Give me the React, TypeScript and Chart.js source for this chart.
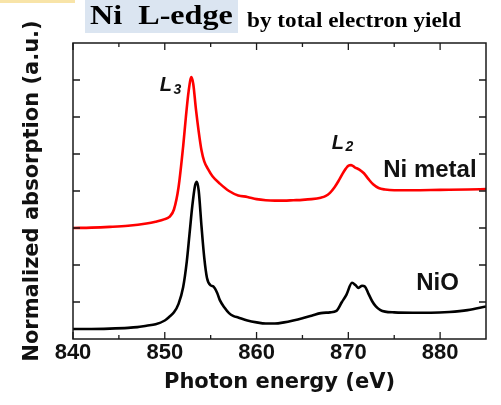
import React, { useEffect, useRef } from 'react';
import { Chart, registerables } from 'chart.js';

Chart.register(...registerables);

// ---- Data ----
const niMetalEnergy = [
  840, 842, 844, 846, 848, 849, 850, 850.5, 851, 851.5, 852, 852.3, 852.6, 852.9, 853.1,
  853.4, 853.7, 854.0, 854.3, 854.7, 855.2, 856, 857, 858, 859, 860, 861, 862, 863, 864,
  865, 866, 867, 867.5, 868, 868.5, 869, 869.5, 870, 870.3, 870.7, 871.2, 871.7, 872.2,
  872.7, 873.3, 874, 875, 877, 880, 883, 885,
];
const niMetalSignal = [
  3.0, 3.01, 3.03, 3.06, 3.12, 3.17, 3.24, 3.3, 3.5, 4.1, 5.2, 6.0, 6.7, 7.08, 6.9,
  6.2, 5.6, 5.1, 4.8, 4.6, 4.4, 4.2, 4.0, 3.88, 3.84, 3.78, 3.75, 3.74, 3.74, 3.75,
  3.76, 3.78, 3.82, 3.86, 3.95, 4.1, 4.3, 4.52, 4.68, 4.7, 4.64, 4.58, 4.48, 4.32,
  4.18, 4.08, 4.04, 4.02, 4.02, 4.03, 4.04, 4.05,
];
const nioEnergy = [
  840, 842, 844, 846, 847, 848, 849, 850, 850.5, 851, 851.5, 852, 852.4, 852.7, 853.0,
  853.3, 853.5, 853.7, 854.0, 854.3, 854.6, 855.0, 855.3, 855.7, 856.0, 856.5, 857.0,
  857.5, 858, 859, 860, 861, 862, 863, 864, 865, 866, 867, 868, 868.7, 869.3, 869.8,
  870.4, 870.8, 871.1, 871.5, 871.8, 872.2, 872.6, 873, 873.5, 874, 875, 877, 879, 881,
  883, 885,
];
const nioSignal = [
  0.27, 0.27, 0.28, 0.3, 0.32, 0.36, 0.4, 0.5, 0.6, 0.72, 0.95, 1.4, 2.1, 2.85, 3.6,
  4.15, 4.25, 4.0, 3.05, 2.2, 1.65, 1.45, 1.42, 1.25, 1.05, 0.85, 0.7,
  0.62, 0.58, 0.5, 0.45, 0.42, 0.42, 0.45, 0.5, 0.56, 0.63, 0.7, 0.72, 0.76, 1.0, 1.2,
  1.52, 1.45, 1.38, 1.44, 1.42, 1.22, 1.02, 0.88, 0.78, 0.74, 0.72, 0.71, 0.71, 0.73,
  0.78, 0.88,
];

const xTickValues = [840, 850, 860, 870, 880];
const xMinorTickValues = [845, 855, 865, 875];
const yTickValues = [1, 2, 3, 4, 5, 6, 7];
const X_MIN = 840;
const X_MAX = 885;
const Y_MIN = 0;
const Y_MAX = 8;

const seriesNames = ['Ni metal', 'NiO'];
const seriesColors = ['#ff0000', '#000000'];

// text annotations anchored in data coordinates (energy, signal)
const edgeLabels = [
  { main: 'L', sub: '3', x: 849.45, y: 6.7 },
  { main: 'L', sub: '2', x: 868.2, y: 5.14 },
];
const seriesLabels = [
  { text: 'Ni metal', x: 873.8, y: 4.38 },
  { text: 'NiO', x: 877.4, y: 1.32 },
];

const TITLE_FONT = 'DejaVu Sans';
const TICK_FONT = 'Liberation Sans';

const framePlugin = {
  id: 'frameAndLabels',
  afterDatasetsDraw(chart: any) {
    const { ctx, chartArea, scales } = chart;
    const { left, right, top, bottom } = chartArea;
    const xs = scales.x;
    const ys = scales.y;
    ctx.save();
    ctx.strokeStyle = '#1a1a1a';
    ctx.lineWidth = 1.5;
    ctx.strokeRect(left, top, right - left, bottom - top);
    ctx.lineWidth = 1.3;
    ctx.beginPath();
    for (const v of xTickValues) {
      const px = xs.getPixelForValue(v);
      ctx.moveTo(px, bottom);
      ctx.lineTo(px, bottom - 7);
      ctx.moveTo(px, top);
      ctx.lineTo(px, top + 7);
    }
    for (const v of xMinorTickValues) {
      const px = xs.getPixelForValue(v);
      ctx.moveTo(px, bottom);
      ctx.lineTo(px, bottom - 4);
      ctx.moveTo(px, top);
      ctx.lineTo(px, top + 4);
    }
    for (const v of yTickValues) {
      const py = ys.getPixelForValue(v);
      ctx.moveTo(left, py);
      ctx.lineTo(left + 7, py);
      ctx.moveTo(right, py);
      ctx.lineTo(right - 7, py);
    }
    ctx.stroke();

    ctx.fillStyle = '#111';
    ctx.textBaseline = 'alphabetic';
    ctx.textAlign = 'left';
    for (const l of edgeLabels) {
      const px = xs.getPixelForValue(l.x);
      const py = ys.getPixelForValue(l.y);
      ctx.font = 'italic bold 20px "Liberation Sans"';
      ctx.fillText(l.main, px, py);
      const w = ctx.measureText(l.main).width;
      ctx.font = 'italic bold 14px "Liberation Sans"';
      ctx.fillText(l.sub, px + w + 1.5, py + 2.5);
    }
    ctx.font = 'bold 24px "Liberation Sans"';
    for (const l of seriesLabels) {
      ctx.fillText(l.text, xs.getPixelForValue(l.x), ys.getPixelForValue(l.y));
    }
    ctx.restore();
  },
};

export default function App() {
  const canvasRef = useRef<HTMLCanvasElement | null>(null);

  useEffect(() => {
    const canvas = canvasRef.current;
    if (!canvas) return;
    const toPoints = (xsArr: number[], ysArr: number[]) =>
      xsArr.map((e, i) => ({ x: e, y: ysArr[i] }));
    const chart = new Chart(canvas, {
      type: 'line',
      data: {
        datasets: [
          {
            label: seriesNames[0],
            data: toPoints(niMetalEnergy, niMetalSignal),
            borderColor: seriesColors[0],
            borderWidth: 2.6,
            pointRadius: 0,
            tension: 0.35,
            cubicInterpolationMode: 'monotone',
            fill: false,
          },
          {
            label: seriesNames[1],
            data: toPoints(nioEnergy, nioSignal),
            borderColor: seriesColors[1],
            borderWidth: 2.6,
            pointRadius: 0,
            tension: 0.35,
            cubicInterpolationMode: 'monotone',
            fill: false,
          },
        ],
      },
      options: {
        responsive: false,
        animation: false,
        devicePixelRatio: 1,
        layout: { padding: { left: 0, right: 15, top: 43, bottom: 0 } },
        plugins: {
          legend: { display: false },
          tooltip: { enabled: false },
          title: { display: false },
        },
        scales: {
          x: {
            type: 'linear',
            min: X_MIN,
            max: X_MAX,
            grid: { display: false, drawTicks: false },
            border: { display: false },
            afterBuildTicks: (scale: any) => {
              scale.ticks = xTickValues.map((v) => ({ value: v }));
            },
            afterFit: (scale: any) => {
              scale.height = 66;
            },
            ticks: {
              padding: 1,
              color: '#111',
              font: { family: TICK_FONT, weight: 'bold', size: 22 },
              callback: (v: any) => String(v),
            },
            title: {
              display: true,
              text: 'Photon energy (eV)',
              color: '#111',
              font: { family: TITLE_FONT, weight: 'bold', size: 21 },
              padding: { top: 0, bottom: 10 },
            },
          },
          y: {
            type: 'linear',
            min: Y_MIN,
            max: Y_MAX,
            grid: { display: false, drawTicks: false },
            border: { display: false },
            ticks: { display: false },
            afterFit: (scale: any) => {
              scale.width = 73;
            },
            title: {
              display: true,
              text: 'Normalized absorption (a.u.)',
              color: '#111',
              font: { family: TITLE_FONT, weight: 'bold', size: 21 },
              padding: { top: 20, bottom: 0 },
            },
          },
        },
      },
      plugins: [framePlugin],
    } as any);
    return () => chart.destroy();
  }, []);

  return (
    <div
      style={{
        position: 'absolute',
        left: 0,
        top: 0,
        width: 501,
        height: 405,
        background: '#ffffff',
        overflow: 'hidden',
      }}
    >
      <div
        style={{
          position: 'absolute',
          left: 0,
          top: 0,
          width: 75,
          height: 3,
          background: '#f8e4a8',
        }}
      />
      <div
        style={{
          position: 'absolute',
          left: 85,
          top: 0,
          width: 153,
          height: 33,
          background: '#dbe5f1',
        }}
      />
      <canvas
        ref={canvasRef}
        width={501}
        height={405}
        style={{ position: 'absolute', left: 0, top: 0, display: 'block' }}
      />
      <div
        style={{
          position: 'absolute',
          left: 90,
          top: 2,
          fontFamily: '"Liberation Serif", serif',
          fontWeight: 'bold',
          fontSize: 27,
          lineHeight: 1,
          whiteSpace: 'pre',
          color: '#000',
          transform: 'scaleX(1.19)',
          transformOrigin: 'left top',
        }}
      >
        {'Ni  L-edge'}
      </div>
      <div
        style={{
          position: 'absolute',
          left: 247,
          top: 10,
          fontFamily: '"Liberation Serif", serif',
          fontWeight: 'bold',
          fontSize: 20,
          lineHeight: 1,
          whiteSpace: 'pre',
          color: '#000',
          transform: 'scaleX(1.16)',
          transformOrigin: 'left top',
        }}
      >
        by total electron yield
      </div>
    </div>
  );
}
